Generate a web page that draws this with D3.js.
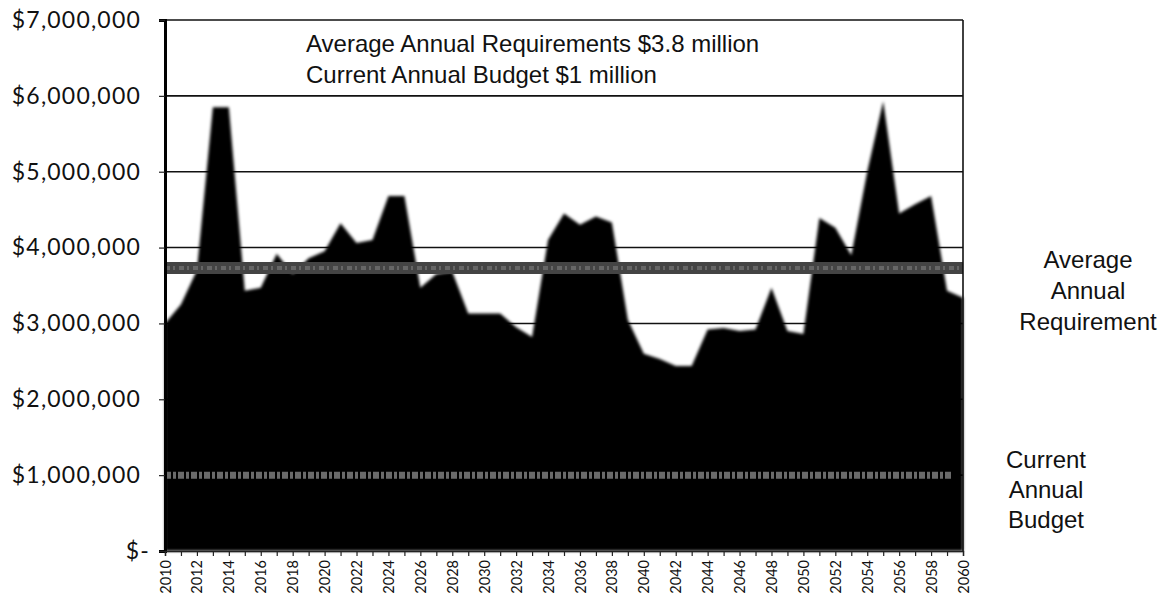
<!DOCTYPE html>
<html>
<head>
<meta charset="utf-8">
<script src="https://cdn.jsdelivr.net/npm/d3@7"></script>
<style>
  body { margin: 0; background: #fff; }
</style>
</head>
<body>
<div id="chart"></div>
<script>
// -----------------------------------------
//DATA
// -----------------------------------------
var years = d3.range(2010, 2061);
var requirements = [
  3.00, 3.25, 3.70, 5.85, 5.85, 3.43, 3.47, 3.92, 3.65, 3.86,
  3.95, 4.32, 4.06, 4.10, 4.68, 4.68, 3.47, 3.65, 3.68, 3.13,
  3.13, 3.13, 2.95, 2.82, 4.10, 4.45, 4.30, 4.41, 4.33, 3.05,
  2.60, 2.53, 2.44, 2.44, 2.92, 2.94, 2.90, 2.92, 3.47, 2.90,
  2.86, 4.39, 4.26, 3.90, 5.00, 5.93, 4.45, 4.57, 4.68, 3.43,
  3.34
].map(function(v){ return v * 1e6; });
var yTicks = [0, 1e6, 2e6, 3e6, 4e6, 5e6, 6e6, 7e6];
var xLabelYears = d3.range(2010, 2061, 2);
var averageLine = 3.73e6; //drawn level of the average band
var budgetLine = 1.0e6;
var titleLines = ["Average Annual Requirements $3.8 million", "Current Annual Budget $1 million"];
var avgLabel = ["Average", "Annual", "Requirement"];
var budgetLabel = ["Current", "Annual", "Budget"];

// -----------------------------------------
//FORMAT VARIABLES
// -----------------------------------------
var W = 1174, H = 613;
var padL = 165, padR = 963, padT = 20, padB = 551;
var axisFont = "Lato, 'Open Sans', sans-serif";
var textFont = "'Liberation Sans', Arial, sans-serif";

var x = d3.scaleLinear().domain([2010, 2060]).range([padL, padR]);
var y = d3.scaleLinear().domain([0, 7e6]).range([padB, padT]);

var svgContainer = d3.select("#chart")
  .append("svg")
  .attr("width", W)
  .attr("height", H);

var defs = svgContainer.append("defs");
defs.append("filter").attr("id", "scan")
  .attr("x", "-5%").attr("y", "-5%").attr("width", "110%").attr("height", "110%")
  .append("feGaussianBlur").attr("stdDeviation", 1.6);

//GRIDLINES
svgContainer.append("g")
  .selectAll("line")
  .data(yTicks.slice(1))
  .join("line")
  .attr("x1", padL)
  .attr("x2", padR)
  .attr("y1", function(d){ return y(d); })
  .attr("y2", function(d){ return y(d); })
  .style("stroke", "#111")
  .style("stroke-width", 1.6);

//AREA
var area = d3.area()
  .x(function(d, i){ return x(years[i]); })
  .y0(y(0))
  .y1(function(d){ return y(d); });

svgContainer.append("path")
  .datum(requirements)
  .attr("d", area)
  .style("fill", "#030303")
  .attr("filter", "url(#scan)");

//AVERAGE AND BUDGET BANDS
svgContainer.append("line")
  .attr("x1", padL).attr("x2", padR)
  .attr("y1", y(averageLine)).attr("y2", y(averageLine))
  .style("stroke", "#444")
  .style("stroke-width", 12);
svgContainer.append("line")
  .attr("x1", padL).attr("x2", padR)
  .attr("y1", y(averageLine)).attr("y2", y(averageLine))
  .style("stroke", "#666")
  .style("stroke-width", 4)
  .style("stroke-dasharray", "5, 3, 2, 4");
svgContainer.append("line")
  .attr("x1", padL).attr("x2", padR - 10)
  .attr("y1", y(budgetLine)).attr("y2", y(budgetLine))
  .style("stroke", "#6a6a6a")
  .style("stroke-width", 7)
  .style("stroke-dasharray", "6, 2, 3, 2");

//BORDER
svgContainer.append("line")
  .attr("x1", padR).attr("x2", padR)
  .attr("y1", padT).attr("y2", padB)
  .style("stroke", "#111").style("stroke-width", 1.6);

//Y AXIS
var yAxis = d3.axisLeft(y)
  .tickValues(yTicks)
  .tickSize(6)
  .tickPadding(18)
  .tickFormat(function(d){ return d === 0 ? "$-" : "$" + d3.format(",")(d); });

var gy = svgContainer.append("g")
  .attr("transform", "translate(" + padL + ",0)")
  .call(yAxis);
gy.select(".domain").style("stroke", "#000").style("stroke-width", 3);
gy.selectAll(".tick line").style("stroke", "#222").style("stroke-width", 1.2);
gy.selectAll(".tick text")
  .style("font-family", axisFont)
  .style("font-size", "23px")
  .style("letter-spacing", "1.2px")
  .style("fill", "#111")
  .attr("dx", function(d){ return d === 0 ? 9 : 0; });

//X AXIS
var xAxis = d3.axisBottom(x)
  .tickValues(years)
  .tickSize(5)
  .tickFormat(function(d){ return xLabelYears.indexOf(d) >= 0 ? d : ""; });

var gx = svgContainer.append("g")
  .attr("transform", "translate(0," + padB + ")")
  .call(xAxis);
gx.select(".domain").style("stroke", "#222").style("stroke-width", 1.4);
gx.selectAll(".tick line").style("stroke", "#222").style("stroke-width", 1.2);
gx.selectAll(".tick text")
  .style("font-family", axisFont)
  .style("font-size", "14.5px")
  .style("fill", "#111")
  .attr("text-anchor", "end")
  .attr("transform", "rotate(-90)")
  .attr("x", -9)
  .attr("y", 0)
  .attr("dy", "0.35em");

//TITLE TEXT
svgContainer.append("g")
  .selectAll("text")
  .data(titleLines)
  .join("text")
  .attr("x", 306)
  .attr("y", function(d, i){ return 52 + i * 31; })
  .text(function(d){ return d; })
  .style("font-family", textFont)
  .style("font-size", "24px")
  .style("fill", "#111");

//SIDE LABELS
svgContainer.append("g")
  .selectAll("text")
  .data(avgLabel)
  .join("text")
  .attr("x", 1088)
  .attr("y", function(d, i){ return 268 + i * 31; })
  .attr("text-anchor", "middle")
  .text(function(d){ return d; })
  .style("font-family", textFont)
  .style("font-size", "24px")
  .style("fill", "#111");

svgContainer.append("g")
  .selectAll("text")
  .data(budgetLabel)
  .join("text")
  .attr("x", 1046)
  .attr("y", function(d, i){ return 468 + i * 30; })
  .attr("text-anchor", "middle")
  .text(function(d){ return d; })
  .style("font-family", textFont)
  .style("font-size", "24px")
  .style("fill", "#111");
</script>
</body>
</html>
